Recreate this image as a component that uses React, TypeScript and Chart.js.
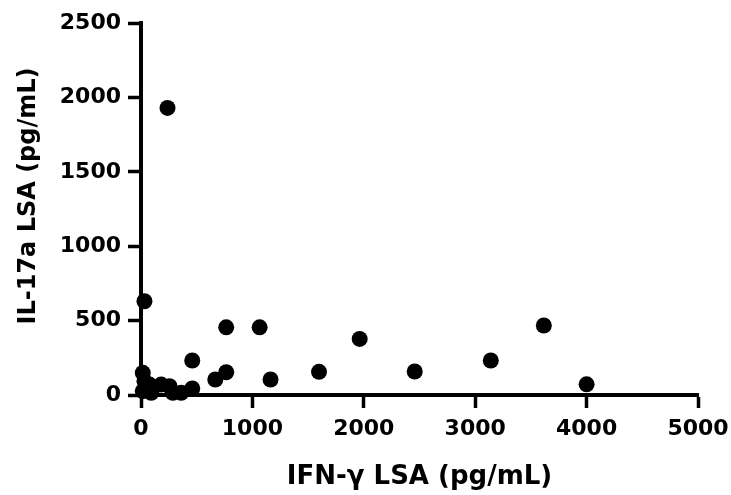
import React, { useEffect, useRef } from "react";
import { Chart, registerables } from "chart.js";

Chart.register(...registerables);

const ifnGamma: number[] = [
  238, 31, 16, 460, 765, 1065, 1963, 3616, 3140, 2457, 1598, 1163, 765, 667, 4000, 460,
  31, 181, 256, 76, 16, 92, 286, 361,
];
const il17a: number[] = [
  1929, 630, 149, 232, 455, 455, 377, 467, 232, 158, 156, 104, 153, 104, 72, 44,
  93, 70, 59, 70, 26, 15, 15, 15,
];
const xTicks: number[] = [0, 1000, 2000, 3000, 4000, 5000];
const yTicks: number[] = [0, 500, 1000, 1500, 2000, 2500];
const xTitle = "IFN-γ LSA (pg/mL)";
const yTitle = "IL-17a LSA (pg/mL)";

const yTitlePlugin = {
  id: "yTitlePlugin",
  afterDraw(chart: any) {
    const { ctx, chartArea } = chart;
    ctx.save();
    ctx.font = "bold 24px 'DejaVu Sans'";
    ctx.fillStyle = "#000";
    ctx.textAlign = "center";
    ctx.textBaseline = "middle";
    ctx.translate(29, (chartArea.top + chartArea.bottom) / 2 - 13);
    ctx.rotate(-Math.PI / 2);
    ctx.fillText(yTitle, 0, 0);
    ctx.restore();
  },
};

export default function App() {
  const ref = useRef<HTMLCanvasElement | null>(null);

  useEffect(() => {
    if (!ref.current) return;
    const points = ifnGamma.map((x, i) => ({ x, y: il17a[i] }));
    const tickFont = { family: "'DejaVu Sans'", size: 22, weight: "bold" as const };
    const titleFont = { family: "'DejaVu Sans'", size: 26, weight: "bold" as const };
    const chart = new Chart(ref.current, {
      type: "scatter",
      data: {
        datasets: [
          {
            data: points,
            backgroundColor: "#000",
            borderWidth: 0,
            pointRadius: 8,
            pointHoverRadius: 8,
            clip: false as any,
          },
        ],
      },
      plugins: [yTitlePlugin],
      options: {
        animation: false,
        responsive: true,
        maintainAspectRatio: false,
        layout: { padding: { top: 23, right: 33, left: 0, bottom: 0 } },
        plugins: { legend: { display: false }, tooltip: { enabled: false } },
        scales: {
          x: {
            type: "linear",
            min: xTicks[0],
            max: xTicks[xTicks.length - 1],
            afterBuildTicks: (s: any) => {
              s.ticks = xTicks.map((v) => ({ value: v }));
            },
            afterFit: (s: any) => {
              s.height = 100;
              s.paddingLeft = 0;
              s.paddingRight = 0;
            },
            ticks: { color: "#000", font: tickFont, padding: 8, maxRotation: 0, callback: (v: any) => String(v) },
            grid: {
              drawOnChartArea: false,
              drawTicks: true,
              tickLength: 13,
              tickWidth: 3.5,
              tickColor: "#000",
            },
            border: { display: true, color: "#000", width: 4 },
            title: { display: true, text: xTitle, color: "#000", font: titleFont, padding: { top: 0, bottom: 2 } },
          },
          y: {
            type: "linear",
            min: yTicks[0],
            max: yTicks[yTicks.length - 1],
            afterBuildTicks: (s: any) => {
              s.ticks = yTicks.map((v) => ({ value: v }));
            },
            afterFit: (s: any) => {
              s.width = 141;
              s.paddingTop = 0;
              s.paddingBottom = 0;
            },
            ticks: { color: "#000", font: tickFont, padding: 7, callback: (v: any) => String(v) },
            grid: {
              drawOnChartArea: false,
              drawTicks: true,
              tickLength: 13,
              tickWidth: 3.5,
              tickColor: "#000",
            },
            border: { display: true, color: "#000", width: 4 },
            title: { display: false },
          },
        },
      },
    });
    return () => chart.destroy();
  }, []);

  return (
    <div style={{ position: "absolute", left: 0, top: 0, width: 731, height: 495, background: "#fff" }}>
      <canvas ref={ref} />
    </div>
  );
}
